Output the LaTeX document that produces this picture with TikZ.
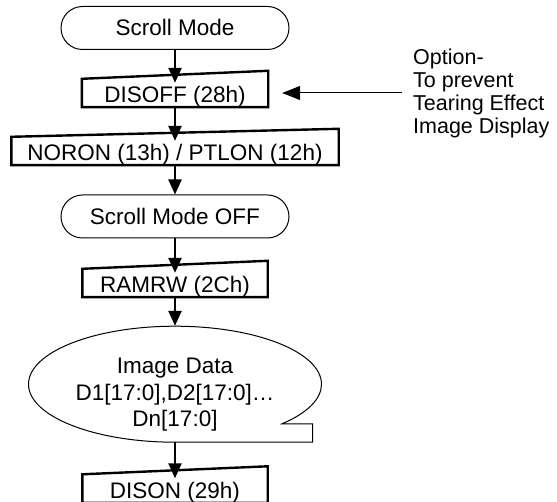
\documentclass[tikz,border=0pt]{standalone}
\usepackage{fontspec}
\setmainfont{Liberation Sans}
\usetikzlibrary{arrows.meta,shapes.geometric}

\newcommand{\slantbox}[1]{%
  \draw[boxline] (#1.south west) -- (#1.north west) -- ([yshift=8pt]#1.north east) -- (#1.south east) -- cycle;}

\begin{document}
\begin{tikzpicture}[x=1pt,y=-1pt,
  flow/.style={line width=2.4pt,-{Triangle[length=15pt,width=13pt]}},
  intobox/.style={shorten >=-4pt},
  optarrow/.style={line width=1pt,-{Triangle[length=18pt,width=14pt]}},
  boxline/.style={line width=2.4pt},
  thinline/.style={line width=1pt},
  cmdbox/.style={minimum height=28pt,inner sep=0pt,text height=19pt,text depth=0pt,
    font=\fontsize{22.5}{26}\selectfont},
  term/.style={draw,line width=1pt,rounded corners=21.5pt,minimum width=228pt,
    minimum height=43pt,inner sep=0pt,text height=16pt,text depth=0pt,
    font=\fontsize{22.5}{26}\selectfont}]
  \useasboundingbox (0,0) rectangle (557,502);

  \node[term] (scroll) at (175,28) {Scroll Mode};
  \node[cmdbox,minimum width=186pt] (disoff) at (175,93) {DISOFF (28h)};
  \node[cmdbox,minimum width=327pt] (noron) at (175,151) {NORON (13h) / PTLON (12h)};
  \node[term] (scrolloff) at (175,216.5) {Scroll Mode OFF};
  \node[cmdbox,minimum width=185pt] (ramrw) at (175,283) {RAMRW (2Ch)};
  \node[ellipse,minimum width=293pt,minimum height=116pt,inner sep=0pt] (imgdata) at (175,384) {};
  \node[align=center,inner sep=0pt,font=\fontsize{22.5}{26.5}\selectfont] (imgtext) at (175,395)
    {Image Data\\D1[17:0],D2[17:0]…\\Dn[17:0]};
  \node[cmdbox,minimum width=185pt] (dison) at (175,488.5) {DISON (29h)};
  \node[anchor=west,align=left,inner xsep=11pt,inner ysep=0pt,font=\fontsize{21.5}{23}\selectfont] (note) at (402,93)
    {Option-\\To prevent\\Tearing Effect\\Image Display};

  \slantbox{disoff}
  \slantbox{noron}
  \slantbox{ramrw}
  \slantbox{dison}
  \draw[thinline] (imgdata.south) arc[start angle=270,end angle=-43,x radius=146.5pt,y radius=58pt]
    -- ++(30.5,0) |- (imgdata.south);

  \draw[flow,intobox] (scroll) -- (disoff);
  \draw[flow,intobox] (disoff) -- (noron);
  \draw[flow] (noron) -- (scrolloff);
  \draw[flow,intobox] (scrolloff) -- (ramrw);
  \draw[flow] (ramrw) -- (imgdata);
  \draw[flow,intobox] (imgdata) -- (dison);
  \draw[optarrow] (note.west) -- ([xshift=14pt]disoff.east);
\end{tikzpicture}
\end{document}
